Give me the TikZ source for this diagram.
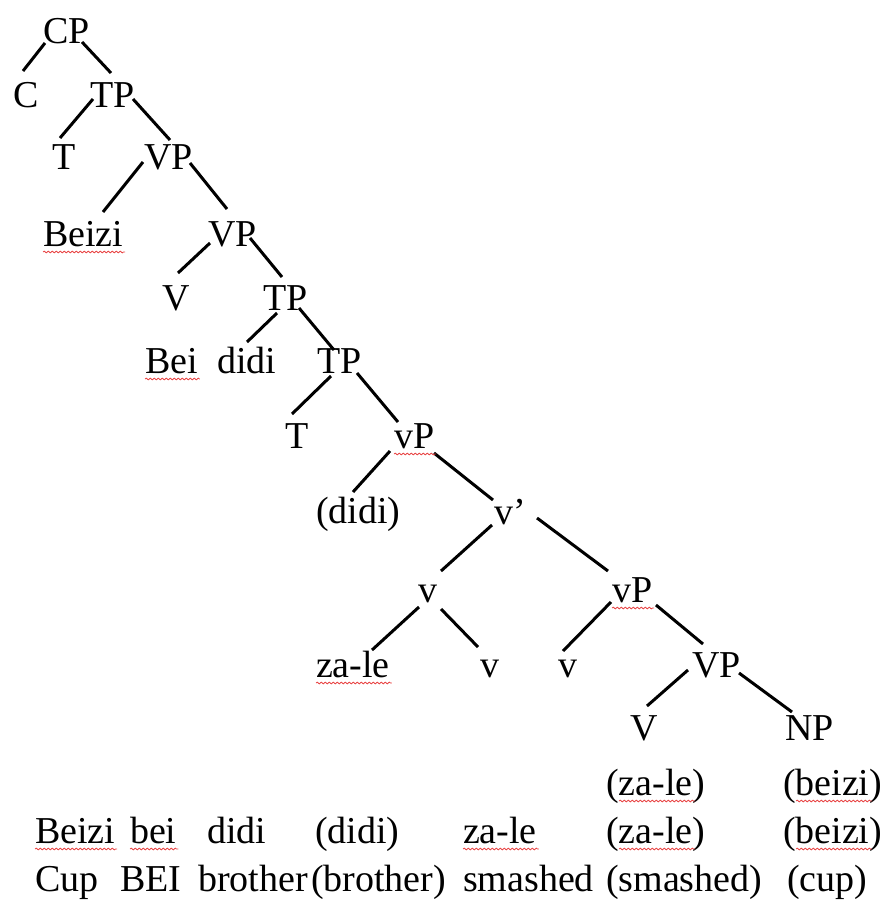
\documentclass[tikz,border=0pt]{standalone}
\usepackage{fontspec}
\setmainfont{Liberation Serif}
\usetikzlibrary{calc,decorations.pathmorphing}
\definecolor{spellred}{RGB}{232,70,70}
\begin{document}
\begin{tikzpicture}[x=1pt,y=-1pt,
  word/.style={anchor=base west, inner sep=0pt, outer sep=0pt,
    font=\fontsize{38}{44}\selectfont},
  branch/.style={line width=3pt, black},
  spell/.style={draw=spellred, line width=0.8pt,
    decorate, decoration={snake, segment length=4pt, amplitude=0.9pt}}]
\useasboundingbox (0,0) rectangle (885,900);

% tree labels
\node[word] (cp)    at (43,43)   {CP};
\node[word] (c)     at (13,107)  {C};
\node[word] (tp1)   at (90,107)  {TP};
\node[word] (t1)    at (52,169)  {T};
\node[word] (vp1)   at (144,169) {VP};
\node[word] (beizi) at (43,246)  {Beizi};
\node[word] (vp2)   at (208,246) {VP};
\node[word] (v1)    at (162,310) {V};
\node[word] (tp2)   at (263,310) {TP};
\node[word] (bei)   at (145,373) {Bei};
\node[word] (didi)  at (217,373) {didi};
\node[word] (tp3)   at (317,373) {TP};
\node[word] (t2)    at (285,448) {T};
\node[word] (vpl1)  at (394,448) {vP};
\node[word] (didip) at (316,523) {(didi)};
\node[word] (vbar)  at (494,524) {v’};
\node[word] (vh)    at (418,602) {v};
\node[word] (vpl2)  at (612,602) {vP};
\node[word] (zale)  at (316,677) {za-le};
\node[word] (vt1)   at (480,677) {v};
\node[word] (vt2)   at (558,677) {v};
\node[word] (vp3)   at (692,677) {VP};
\node[word] (vv)    at (630,740) {V};
\node[word] (np)    at (785,740) {NP};

% traces and glosses
\node[word] (ta) at (606,795) {(za-le)};
\node[word] (tb) at (783,795) {(beizi)};

\node[word] (sa) at (35,843)  {Beizi};
\node[word] (sb) at (130,843) {bei};
\node[word] (sc) at (207,843) {didi};
\node[word] (sd) at (315,843) {(didi)};
\node[word] (se) at (463,843) {za-le};
\node[word] (sf) at (606,843) {(za-le)};
\node[word] (sg) at (783,843) {(beizi)};

\node[word] (ga) at (35,891)  {Cup};
\node[word] (gb) at (120,891) {BEI};
\node[word] (gc) at (198,891) {brother};
\node[word] (gd) at (311,891) {(brother)};
\node[word] (ge) at (463,891) {smashed};
\node[word] (gf) at (606,891) {(smashed)};
\node[word] (gg) at (787,891) {(cup)};

% branches
\draw[branch] ($(cp.base west)+(2,0)$)     -- ($(c.base west)+(10,-36)$);
\draw[branch] ($(cp.base west)+(39,-1)$)   -- ($(tp1.base west)+(21,-34)$);
\draw[branch] ($(tp1.base west)+(3,-8)$)   -- ($(t1.base west)+(8,-31)$);
\draw[branch] ($(tp1.base west)+(43,-8)$)  -- ($(vp1.base west)+(26,-29)$);
\draw[branch] ($(vp1.base west)+(-1,-7)$)  -- ($(beizi.base west)+(60,-34)$);
\draw[branch] ($(vp1.base west)+(46,-6)$)  -- ($(vp2.base west)+(19,-37)$);
\draw[branch] ($(vp2.base west)+(2,-3)$)   -- ($(v1.base west)+(16,-37)$);
\draw[branch] ($(vp2.base west)+(42,-8)$)  -- ($(tp2.base west)+(19,-33)$);
\draw[branch] ($(tp2.base west)+(14,3)$)   -- ($(didi.base west)+(30,-31)$);
\draw[branch] ($(tp2.base west)+(36,-2)$)  -- ($(tp3.base west)+(17,-23)$);
\draw[branch] ($(tp3.base west)+(14,3)$)   -- ($(t2.base west)+(7,-34)$);
\draw[branch] ($(tp3.base west)+(40,0)$)   -- ($(vpl1.base west)+(4,-26)$);
\draw[branch] ($(vpl1.base west)+(-4,3)$)  -- ($(didip.base west)+(37,-31)$);
\draw[branch] ($(vpl1.base west)+(40,5)$)  -- ($(vbar.base west)+(-1,-24)$);
\draw[branch] ($(vbar.base west)+(-2,1)$)  -- ($(vh.base west)+(23,-31)$);
\draw[branch] ($(vbar.base west)+(43,-6)$) -- ($(vpl2.base west)+(-4,-31)$);
\draw[branch] ($(vh.base west)+(1,5)$)     -- ($(zale.base west)+(56,-27)$);
\draw[branch] ($(vh.base west)+(23,7)$)    -- ($(vt1.base west)+(-2,-30)$);
\draw[branch] ($(vpl2.base west)+(-1,0)$)  -- ($(vt2.base west)+(5,-26)$);
\draw[branch] ($(vpl2.base west)+(44,3)$)  -- ($(vp3.base west)+(11,-33)$);
\draw[branch] ($(vp3.base west)+(-4,-7)$)  -- ($(vv.base west)+(17,-34)$);
\draw[branch] ($(vp3.base west)+(47,-4)$)  -- ($(np.base west)+(7,-28)$);

% spell-check squiggles
\foreach \w in {beizi,bei,vpl1,zale,vpl2,sa,sb,se}
  \draw[spell] ($(\w.base west)+(0,6)$) -- ($(\w.base east)+(2,6)$);
\foreach \w in {ta,tb,sf,sg}
  \draw[spell] ($(\w.base west)+(13,6)$) -- ($(\w.base east)+(-10,6)$);
\end{tikzpicture}
\end{document}
